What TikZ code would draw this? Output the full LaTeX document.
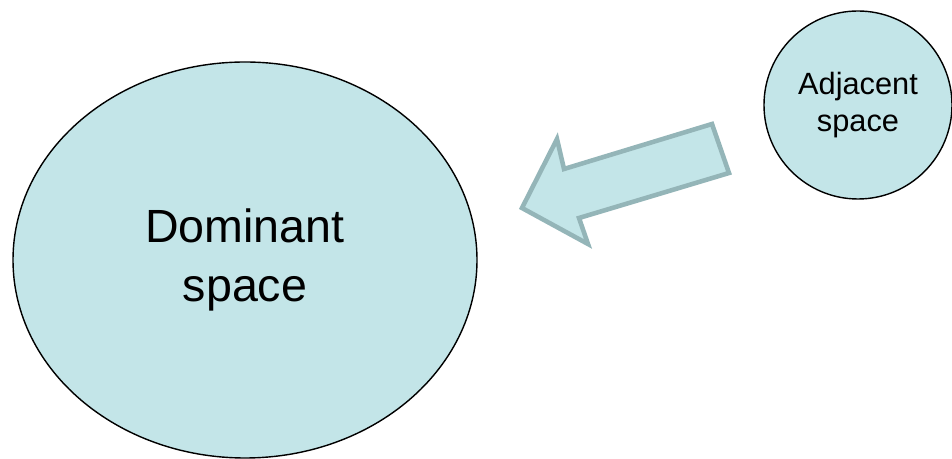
\documentclass[tikz,border=0pt]{standalone}
\usepackage{fontspec}
\setmainfont{Liberation Sans}
\usepackage{tikz}
\usetikzlibrary{shapes,positioning,calc}
\definecolor{spacefill}{RGB}{195,229,232}
\definecolor{arrowline}{RGB}{148,181,184}
\begin{document}
\begin{tikzpicture}[
  space/.style={draw,line width=0.8pt,fill=spacefill,align=center,inner sep=0pt},
  bigarrow/.style={draw=arrowline,fill=spacefill,line width=2.6pt}]
\useasboundingbox(0,0)rectangle(19.04,9.18);
\node[space,ellipse,minimum width=9.28cm,minimum height=7.92cm,
  font=\fontsize{26.5}{33.5}\selectfont](dom) at(4.90,3.98){Dominant\\space};
\node[space,circle,minimum size=3.76cm,
  font=\fontsize{17.5}{21}\selectfont](adj) at(17.16,7.08){Adjacent\\space};
% block arrow from the adjacent space towards the dominant one
\draw[bigarrow](10.44,5.02)--(11.14,6.40)--(11.28,5.80)--(14.24,6.70)
  --(14.58,5.72)--(11.58,4.82)--(11.76,4.30)--cycle;
\end{tikzpicture}
\end{document}
